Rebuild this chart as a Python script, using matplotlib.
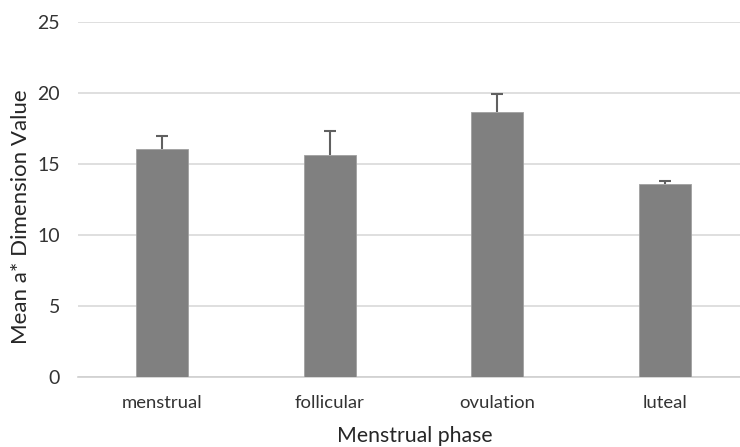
import matplotlib.pyplot as plt

phases = ["menstrual", "follicular", "ovulation", "luteal"]
means = [16.05, 15.6, 18.65, 13.6]
errors = [0.92, 1.7, 1.25, 0.22]
yticks = [0, 5, 10, 15, 20, 25]

plt.rcParams['font.family'] = ['Lato', 'DejaVu Sans']

fig = plt.figure(figsize=(7.4, 4.47), dpi=100)
ax = fig.add_axes([0.1054, 0.1566, 0.907, 0.7944])

x = range(len(phases))
ax.bar(x, means, width=0.31, color="#808080", edgecolor="#a0a0a0", linewidth=0.6, zorder=3)
eb = ax.errorbar(x, means, yerr=[[0] * len(errors), errors], fmt="none",
                 ecolor="#606060", elinewidth=1.5, capsize=4.5, capthick=1.5, zorder=4)
# only the upper cap is shown
eb[1][0].set_visible(False)

ax.set_xlim(-0.5, 3.5)
ax.set_ylim(0, 25)
ax.set_yticks(yticks)
ax.set_xticks(list(x))
ax.set_xticklabels(phases)
ax.yaxis.grid(True, color="#d9d9d9", linewidth=1.2, zorder=0)
ax.set_axisbelow(True)
for side in ["top", "right", "left"]:
    ax.spines[side].set_visible(False)
ax.spines["bottom"].set_color("#d0d0d0")
ax.spines["bottom"].set_linewidth(1.2)
ax.tick_params(axis="y", length=0, labelsize=14, colors="#333333", pad=13)
ax.tick_params(axis="x", length=0, labelsize=13.3, colors="#333333", pad=13)

fig.text(0.561, 0.024, "Menstrual phase", fontsize=15.3, color="#262626",
         ha="center", va="center")
fig.text(0.028, 0.515, "Mean a* Dimension Value", fontsize=16, color="#262626",
         ha="center", va="center", rotation=90)

fig.savefig("out.png", dpi=100)
